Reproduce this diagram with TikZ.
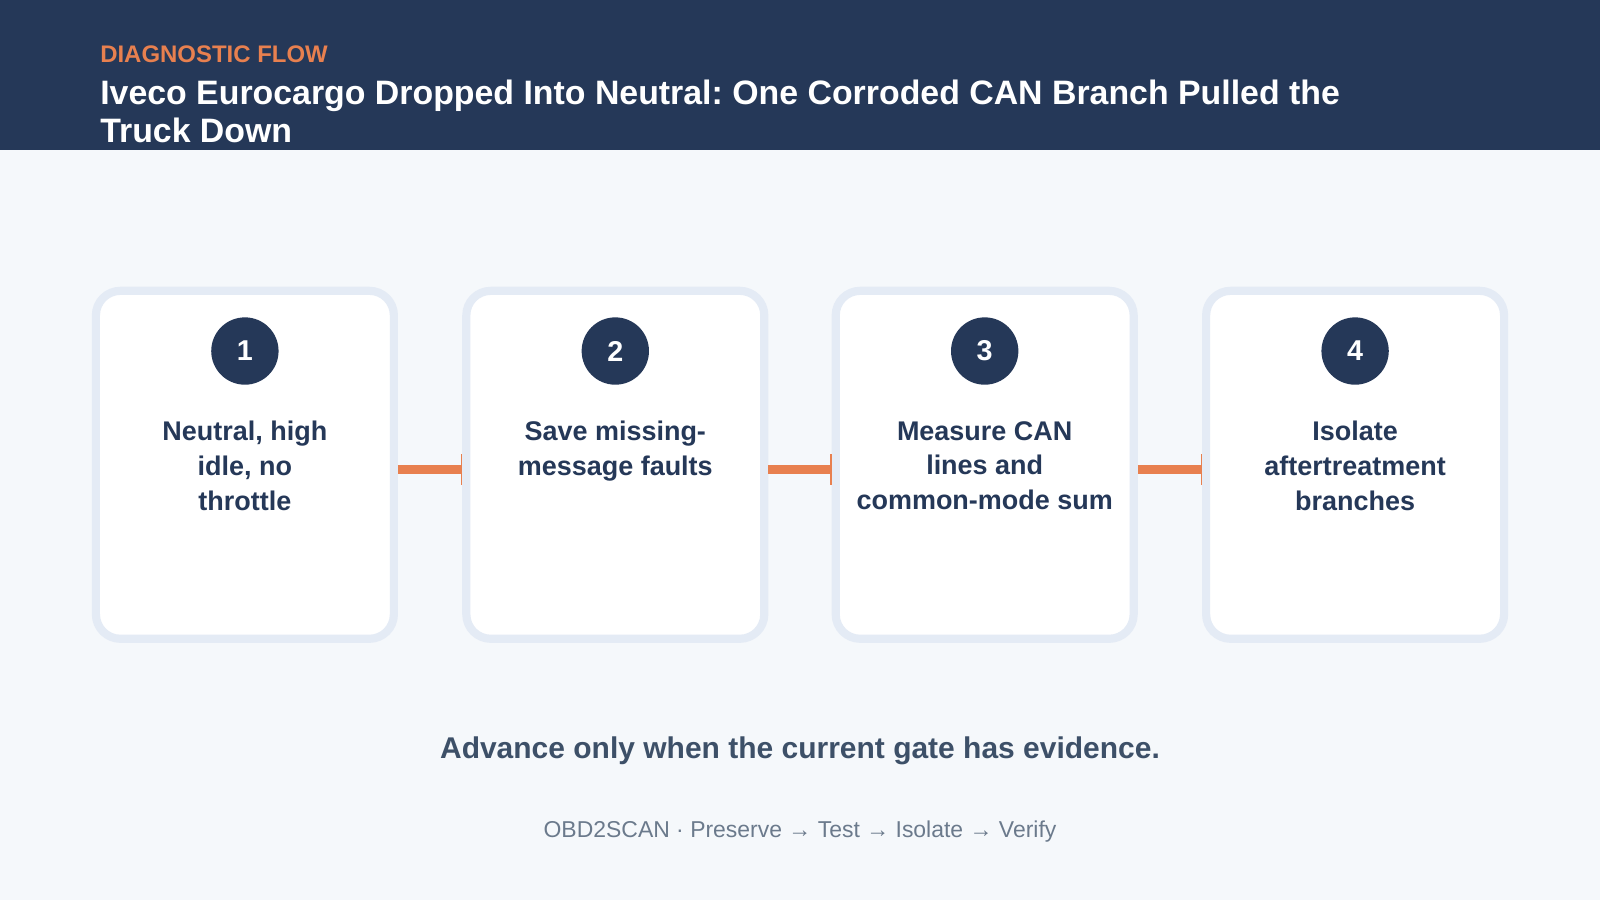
\documentclass[tikz,border=0pt]{standalone}
\usepackage{fontspec}
\setmainfont{Liberation Sans}
\usetikzlibrary{positioning, arrows.meta}
\definecolor{HeaderColor}{RGB}{37,56,88}
\definecolor{AccentColor}{RGB}{232,128,79}
\definecolor{CardBorder}{RGB}{228,235,245}
\definecolor{PageColor}{RGB}{245,248,251}
\definecolor{NoteColor}{RGB}{61,80,104}
\definecolor{FootColor}{RGB}{107,122,140}
\tikzstyle{card} = [draw=CardBorder, line width=2mm, fill=white, rounded corners=6mm, minimum width=73mm, minimum height=85.25mm]
\tikzstyle{badge} = [circle, fill=HeaderColor, text=white, minimum size=16.5mm, inner sep=0pt, font=\fontsize{20}{24}\selectfont\bfseries]
\tikzstyle{steptext} = [text=HeaderColor, align=center, anchor=north, font=\fontsize{18.8}{24.2}\selectfont\bfseries]
\tikzstyle{link} = [AccentColor, line width=2.2mm, -{Bar[width=7.5mm, line width=0.35mm]}]
\frenchspacing

\begin{document}
\begin{tikzpicture}[x=0.25mm, y=-0.25mm]
    % Page and header
    \fill[PageColor] (0,0) rectangle (1568,882);
    \fill[HeaderColor] (0,0) rectangle (1568,147);
    \useasboundingbox (0,0) rectangle (1568,882);
    \node[anchor=west, inner sep=0pt, text=AccentColor, font=\fontsize{16.7}{18}\selectfont\bfseries] (kicker) at (98,53) {DIAGNOSTIC FLOW};
    \node[anchor=north west, text=white, align=left, inner sep=0pt, font=\fontsize{23.6}{26.5}\selectfont\bfseries] (title) at (98,78)
        {Iveco Eurocargo Dropped Into Neutral: One Corroded CAN Branch Pulled the\\Truck Down};

    % Cards
    \node[card] (c1) at (240,455.5) {};
    \node[card] (c2) at (603,455.5) {};
    \node[card] (c3) at (965,455.5) {};
    \node[card] (c4) at (1328,455.5) {};

    % Numbers
    \foreach \i/\x in {1/240, 2/603, 3/965, 4/1328}
        \node[badge] (n\i) at (\x,344) {\i};

    % Step texts
    \node[steptext] (t1) at (240,408) {Neutral, high\\idle, no\\throttle};
    \node[steptext] (t2) at (603,408) {Save missing-\\message faults};
    \node[steptext] (t3) at (965,408) {Measure CAN\\lines and\\common-mode sum};
    \node[steptext] (t4) at (1328,408) {Isolate\\aftertreatment\\branches};

    % Links
    \draw[link] ([yshift=-4.5*0.25mm]c1.east) -- ([yshift=-4.5*0.25mm]c2.west);
    \draw[link] ([yshift=-4.5*0.25mm]c2.east) -- ([yshift=-4.5*0.25mm]c3.west);
    \draw[link] ([yshift=-4.5*0.25mm]c3.east) -- ([yshift=-4.5*0.25mm]c4.west);

    % Notes
    \node[text=NoteColor, font=\fontsize{20.9}{22}\selectfont\bfseries] (note) at (784,736) {Advance only when the current gate has evidence.};
    \node[text=FootColor, font=\fontsize{16}{18}\selectfont] (foot) at (784,815) {OBD2SCAN · Preserve → Test → Isolate → Verify};
\end{tikzpicture}
\end{document}
